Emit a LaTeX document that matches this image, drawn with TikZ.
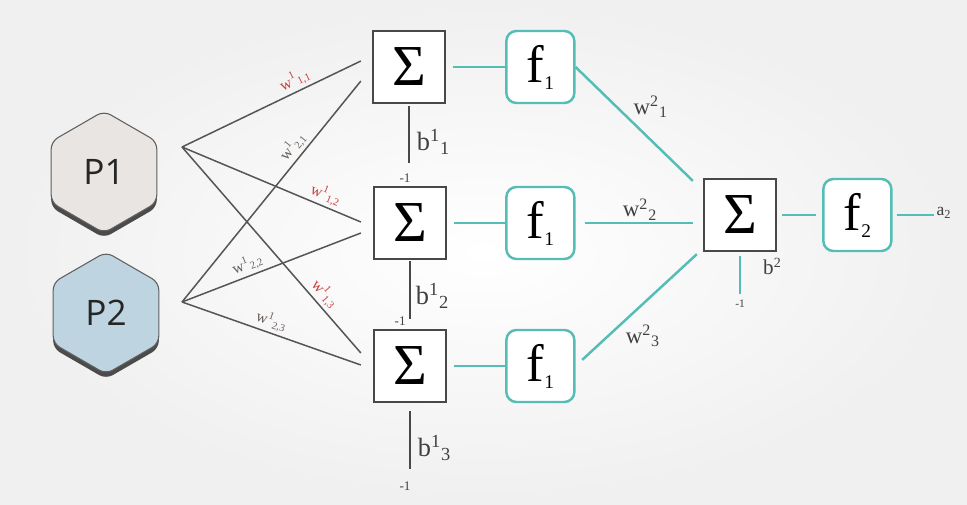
\documentclass[tikz,border=0pt]{standalone}
\usepackage{fontspec}
\setmainfont{Liberation Serif}
\newfontfamily\hexfont{Open Sans}
\usepackage{tikz}
\usetikzlibrary{shapes,arrows,positioning,backgrounds,calc,shadows}
\definecolor{tealline}{RGB}{84,189,181}
\definecolor{boxgray}{RGB}{72,72,72}
\definecolor{wiregray}{RGB}{85,85,85}
\definecolor{wred}{RGB}{200,62,60}
\definecolor{wgray}{RGB}{105,95,90}
\definecolor{p1fill}{RGB}{232,229,226}
\definecolor{p2fill}{RGB}{190,213,225}
\definecolor{hexedge}{RGB}{95,95,95}
\definecolor{shadowgray}{RGB}{75,75,75}
\newcommand{\lowsub}[1]{\raisebox{-0.14cm}{\fontsize{11}{11}\selectfont #1}}
\tikzset{sum node/.style={rectangle,draw=boxgray,fill=white,line width=1.3pt,minimum size=1.44cm,inner sep=0pt,font=\fontsize{33}{33}\selectfont},
act node/.style={rectangle,rounded corners=0.2cm,draw=tealline,fill=white,line width=1.4pt,minimum width=1.36cm,minimum height=1.44cm,inner sep=0pt,font=\fontsize{30}{30}\selectfont},
input node/.style={regular polygon,regular polygon sides=6,shape border rotate=90,minimum size=2.44cm,draw=hexedge,line width=0.6pt,rounded corners=0.15cm,inner sep=0pt,text=black!85,font=\hexfont\fontsize{20}{20}\selectfont,drop shadow={shadow xshift=0pt,shadow yshift=-0.1cm,fill=shadowgray,opacity=1}},
}
\tikzstyle{wlab}=[font=\fontsize{9}{9}\selectfont,inner sep=1.5pt,sloped,above]
\tikzstyle{vlab}=[font=\fontsize{13}{13}\selectfont,inner sep=1pt,text=black!75]
\tikzstyle{blab}=[font=\fontsize{15}{15}\selectfont,inner sep=0pt,text=black!75]
\tikzstyle{negone}=[font=\fontsize{7.5}{7.5}\selectfont,inner sep=0pt,text=black!75]

\begin{document}
\begin{tikzpicture}[x=0.02cm,y=-0.02cm]
\useasboundingbox (0,0) rectangle (967,504);
\shade[inner color=white,outer color=black!6] (0,0) rectangle (967,504);

% inputs
\node[input node,fill=p1fill] (p1) at (104,172) {P1};
\node[input node,fill=p2fill] (p2) at (106,313) {P2};
\coordinate (p1out) at (182,147);
\coordinate (p2out) at (182,302);

% hidden layer
\node[sum node] (s1) at (409,67) {Σ};
\node[sum node] (s2) at (410,223) {Σ};
\node[sum node] (s3) at (410,366) {Σ};
\node[act node] (f1) [right=1.18cm of s1] {f\lowsub{1}};
\node[act node] (f2) [right=1.16cm of s2] {f\lowsub{1}};
\node[act node] (f3) [right=1.16cm of s3] {f\lowsub{1}};

% output layer
\node[sum node] (s4) at (740,215) {Σ};
\node[act node] (f4) [right=0.9cm of s4] {f\lowsub{2}};
\coordinate[right=0.82cm of f4] (out);

% wire ends
\coordinate (s1a) at ([shift={(-11,-6)}]s1.west);
\coordinate (s1b) at ([shift={(-11,14)}]s1.west);
\coordinate (s2a) at ([shift={(-12,-1)}]s2.west);
\coordinate (s2b) at ([shift={(-12,10)}]s2.west);
\coordinate (s3a) at ([shift={(-12,-13)}]s3.west);
\coordinate (s3b) at ([shift={(-12,-1)}]s3.west);
\coordinate (s4a) at ([shift={(-10,3)}]s4.north west);
\coordinate (s4b) at ($(f2.east -| s4.west)+(-10,0)$);
\coordinate (s4c) at ([shift={(-6,2)}]s4.south west);
\coordinate[below=1.18cm of s1] (m1);
\coordinate[below=1.18cm of s2] (m2);
\coordinate[below=1.32cm of s3] (m3);
\coordinate[below=0.84cm of s4] (m4);

\path[draw=wiregray,line width=0.85pt]
(p1out) edge node[wlab,pos=0.66,wred] {w\textsuperscript{1}\textsubscript{1,1}} (s1a)
(p2out) edge node[wlab,pos=0.67,wgray] {w\textsuperscript{1}\textsubscript{2,1}} (s1b)
(p1out) edge node[wlab,pos=0.78,wred] {w\textsuperscript{1}\textsubscript{1,2}} (s2a)
(p2out) edge node[wlab,pos=0.39,wgray] {w\textsuperscript{1}\textsubscript{2,2}} (s2b)
(p1out) edge node[wlab,pos=0.75,wred] {w\textsuperscript{1}\textsubscript{1,3}} (s3a)
(p2out) edge node[wlab,pos=0.48,wgray] {w\textsuperscript{1}\textsubscript{2,3}} (s3b)
;

\path[draw=boxgray,line width=1.1pt]
(s1.south) edge[shorten <=0.04cm] node[blab,pos=0.64,right=0.14cm] {b\textsuperscript{1}\textsubscript{1}} (m1)
(s2.south) edge[shorten <=0.02cm] node[blab,pos=0.61,right=0.1cm] {b\textsuperscript{1}\textsubscript{2}} (m2)
(s3.south) edge[shorten <=0.16cm] node[blab,pos=0.68,right=0.14cm] {b\textsuperscript{1}\textsubscript{3}} (m3)
;
\node[negone,below=0.2cm of m1,xshift=-0.08cm] (n1) {-1};
\node[negone,left=0.08cm of m2,yshift=-0.04cm] (n2) {-1};
\node[negone,below=0.24cm of m3,xshift=-0.1cm] (n3) {-1};
\node[negone,font=\fontsize{6.5}{6.5}\selectfont,below=0.1cm of m4] (n4) {-1};

\path[draw=tealline,line width=1.4pt]
(s1.east) edge[shorten <=0.14cm] (f1.west)
(s2.east) edge[shorten <=0.14cm] (f2.west)
(s3.east) edge[shorten <=0.14cm] (f3.west)
(f1.east) edge node[vlab,pos=0.47,above right] {w\textsuperscript{2}\textsubscript{1}} (s4a)
(f2.east) edge[shorten <=0.18cm] node[vlab,pos=0.55,above] {w\textsuperscript{2}\textsubscript{2}} (s4b)
(f3.east) edge[shorten <=0.18cm] node[vlab,pos=0.39,below right] {w\textsuperscript{2}\textsubscript{3}} (s4c)
(s4.south) edge[shorten <=0.08cm] node[blab,font=\fontsize{12}{12}\selectfont,pos=0.34,right=0.44cm] {b\textsuperscript{2}} (m4)
(s4.east) edge[shorten <=0.1cm,shorten >=0.12cm] (f4.west)
(f4.east) edge[shorten <=0.08cm] node[pos=1,right,inner sep=1pt,yshift=0.04cm,text=black!75,font=\fontsize{10}{10}\selectfont] {a\textsubscript{2}} (out)
;
\end{tikzpicture}
\end{document}
